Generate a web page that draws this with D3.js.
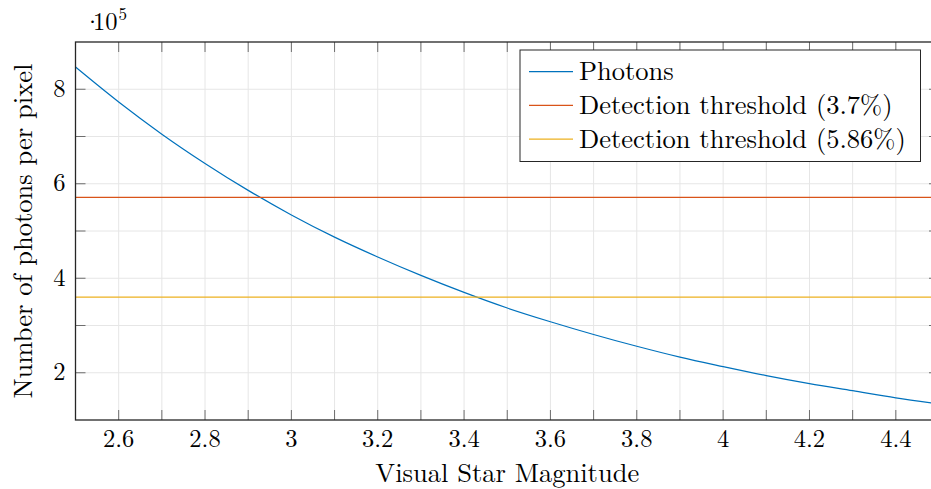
<!DOCTYPE html>
<html>
<head>
<meta charset="utf-8">
<script src="https://cdn.jsdelivr.net/npm/d3@7"></script>
<style>
  body { margin: 0; background: #fff; }
  .grid line { stroke: #e6e6e6; stroke-width: 1; }
  .tick-mark { stroke: #6e6e6e; stroke-width: 1; }
</style>
</head>
<body>
<div id="chart"></div>
<script>
var w = 931,
    h = 489,
    m = [42, -8, 69, 75.5]; // top right bottom left (right side runs off the page)

var font = "Latin Modern Roman, Liberation Serif, serif",
    fs = 26.5,   // labels and legend
    tfs = 24.5;  // tick labels

// visual star magnitude (x) and photons per pixel
var magnitudes = [2.5, 2.6, 2.7, 2.8, 2.9, 3.0, 3.1, 3.2, 3.3, 3.4, 3.5,
                  3.6, 3.7, 3.8, 3.9, 4.0, 4.1, 4.2, 4.3, 4.4, 4.5];
var photons = [847000, 773000, 705000, 643000, 586000, 534000, 487000, 445000, 406000, 370000, 337000,
               308000, 281000, 256000, 233000, 213000, 194000, 177000, 162000, 147000, 134000];

var seriesNames = ["Photons", "Detection threshold (3.7%)", "Detection threshold (5.86%)"];
var thresholds = [571000, 360000];

var xTickLabels = [2.6, 2.8, 3, 3.2, 3.4, 3.6, 3.8, 4, 4.2, 4.4];
var yTickLabels = [200000, 400000, 600000, 800000];

var colors = ["#0072bd", "#d95319", "#edb120"];

var iw = w - m[1] - m[3],
    ih = h - m[0] - m[2];

var x = d3.scaleLinear().domain([2.5, 4.5]).range([0, iw]);
var y = d3.scaleLinear().domain([100000, 900000]).range([ih, 0]);

var svg = d3.select("#chart").append("svg")
    .attr("width", w)
    .attr("height", h)
    .attr("font-family", font);

svg.append("defs").append("clipPath")
    .attr("id", "clip")
  .append("rect")
    .attr("width", iw)
    .attr("height", ih);

var vis = svg.append("g")
    .attr("transform", "translate(" + m[3] + "," + m[0] + ")");

// grid every 0.1 mag and every 1e5 photons
var xMinor = d3.range(26, 45).map(function(d) { return d / 10; });
var yMinor = d3.range(2, 9).map(function(d) { return d * 100000; });

var grid = vis.append("g").attr("class", "grid");
grid.selectAll(".gx").data(xMinor).enter().append("line")
    .attr("x1", x).attr("x2", x)
    .attr("y1", 0).attr("y2", ih);
grid.selectAll(".gy").data(yMinor).enter().append("line")
    .attr("y1", y).attr("y2", y)
    .attr("x1", 0).attr("x2", iw);

// tick marks pointing inwards on all four sides
var tl = 10;
var ticks = vis.append("g");
xMinor.forEach(function(d) {
  ticks.append("line").attr("class", "tick-mark")
      .attr("x1", x(d)).attr("x2", x(d)).attr("y1", ih).attr("y2", ih - tl);
  ticks.append("line").attr("class", "tick-mark")
      .attr("x1", x(d)).attr("x2", x(d)).attr("y1", 0).attr("y2", tl);
});
yMinor.forEach(function(d) {
  ticks.append("line").attr("class", "tick-mark")
      .attr("y1", y(d)).attr("y2", y(d)).attr("x1", 0).attr("x2", tl);
  ticks.append("line").attr("class", "tick-mark")
      .attr("y1", y(d)).attr("y2", y(d)).attr("x1", iw).attr("x2", iw - tl);
});

// data
var plot = vis.append("g").attr("clip-path", "url(#clip)");

var line = d3.line()
    .x(function(d, i) { return x(magnitudes[i]); })
    .y(function(d) { return y(d); })
    .curve(d3.curveMonotoneX);

plot.append("path")
    .datum(photons)
    .attr("fill", "none")
    .attr("stroke", colors[0])
    .attr("stroke-width", 1.2)
    .attr("d", line);

plot.selectAll(".thr").data(thresholds).enter().append("line")
    .attr("x1", 0).attr("x2", iw)
    .attr("y1", y).attr("y2", y)
    .attr("stroke", function(d, i) { return colors[i + 1]; })
    .attr("stroke-width", 1.3);

// frame
vis.append("rect")
    .attr("width", iw)
    .attr("height", ih)
    .attr("fill", "none")
    .attr("stroke", "#262626")
    .attr("stroke-width", 1.3);

// tick labels
vis.selectAll(".xl").data(xTickLabels).enter().append("text")
    .attr("x", x)
    .attr("y", ih + 26.5)
    .attr("text-anchor", "middle")
    .attr("font-size", tfs)
    .text(function(d) { return d; });

vis.selectAll(".yl").data(yTickLabels).enter().append("text")
    .attr("x", -10)
    .attr("y", y)
    .attr("dy", "0.31em")
    .attr("text-anchor", "end")
    .attr("font-size", tfs)
    .text(function(d) { return d / 100000; });

// scale factor above the y axis
var sc = svg.append("text")
    .attr("y", 30)
    .attr("font-size", tfs);
sc.append("tspan").attr("x", 83).text("\u00b7");
sc.append("tspan").attr("x", 93).text("10");
sc.append("tspan").attr("dx", 1).attr("dy", -10).attr("font-size", 17).text("5");

// axis titles
svg.append("text")
    .attr("x", m[3] + iw / 2)
    .attr("y", 481.5)
    .attr("text-anchor", "middle")
    .attr("font-size", fs)
    .text("Visual Star Magnitude");

svg.append("text")
    .attr("transform", "translate(31.5," + (m[0] + ih / 2) + ") rotate(-90)")
    .attr("text-anchor", "middle")
    .attr("font-size", fs)
    .text("Number of photons per pixel");

// legend
var legend = svg.append("g").attr("transform", "translate(520,50)");
legend.append("rect")
    .attr("width", 400.5)
    .attr("height", 111.5)
    .attr("fill", "#fff")
    .attr("stroke", "#262626")
    .attr("stroke-width", 1);

var item = legend.selectAll(".item").data(seriesNames).enter().append("g")
    .attr("transform", function(d, i) { return "translate(0," + (21.7 + i * 33.7) + ")"; });
item.append("line")
    .attr("x1", 9).attr("x2", 53)
    .attr("stroke", function(d, i) { return colors[i]; })
    .attr("stroke-width", 1.2);
item.append("text")
    .attr("x", 59)
    .attr("dy", "0.32em")
    .attr("font-size", fs)
    .text(function(d) { return d; });
</script>
</body>
</html>
